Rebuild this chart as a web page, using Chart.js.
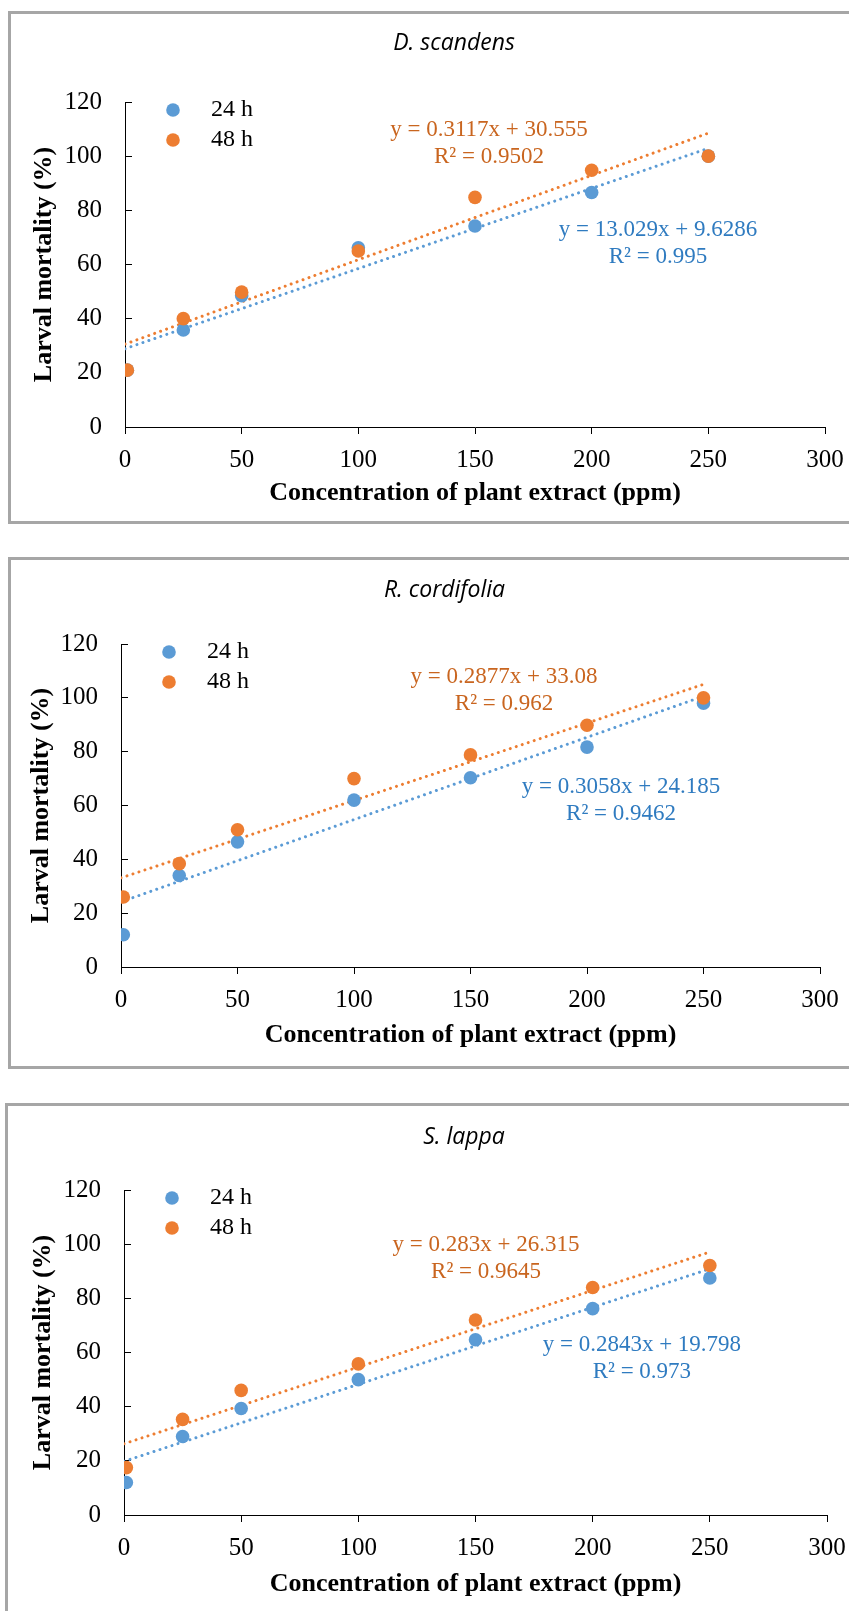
<!DOCTYPE html>
<html>
<head>
<meta charset="utf-8">
<script src="https://cdn.jsdelivr.net/npm/chart.js@4.4.1/dist/chart.umd.min.js"></script>
<style>
  body { margin: 0; background: #fff; width: 849px; height: 1611px; overflow: hidden; position: relative; }
  .caja { position: absolute; width: 900px; border: 3px solid #a6a6a6; box-sizing: border-box; }
  canvas { position: absolute; left: 0; }
</style>
</head>
<body>
<div class="caja" style="left:8px; top:11px; height:513px;"></div>
<div class="caja" style="left:8px; top:557px; height:512px;"></div>
<div class="caja" style="left:5px; top:1103px; height:515px;"></div>
<canvas id="g1" style="top:12px;"></canvas>
<canvas id="g2" style="top:558px;"></canvas>
<canvas id="g3" style="top:1104px;"></canvas>
<script>
// Concentraciones (ppm) y lineas de tendencia
const conc = [1, 25, 50, 100, 150, 200, 250];
const trendX = [0, 250];

// D. scandens
const dsc24 = [21, 35.8, 48.5, 66.2, 74.2, 86.6, 100];
const dsc48 = [21, 40, 49.8, 65, 84.8, 94.8, 100];
const dscFit24 = [28.9, 102.9];
const dscFit48 = [30.6, 108.5];
const dscEq24 = ["y = 13.029x + 9.6286", "R² = 0.995"];
const dscEq48 = ["y = 0.3117x + 30.555", "R² = 0.9502"];

// R. cordifolia
const rco24 = [12, 34, 46.5, 62, 70.3, 81.7, 98];
const rco48 = [26, 38.4, 51, 70, 78.8, 89.8, 100];
const rcoFit24 = [24.2, 100.6];
const rcoFit48 = [33.1, 105.0];
const rcoEq24 = ["y = 0.3058x + 24.185", "R² = 0.9462"];
const rcoEq48 = ["y = 0.2877x + 33.08", "R² = 0.962"];

// S. lappa
const sla24 = [12, 29, 39.3, 50, 64.7, 76.2, 87.5];
const sla48 = [17.5, 35.3, 46, 55.8, 72, 84, 92.1];
const slaFit24 = [19.8, 90.9];
const slaFit48 = [26.3, 97.1];
const slaEq24 = ["y = 0.2843x + 19.798", "R² = 0.973"];
const slaEq48 = ["y = 0.283x + 26.315", "R² = 0.9645"];

const seriesLabels = ["24 h", "48 h"];

const AZUL = "#5b9bd5";
const NARANJA = "#ed7d31";
const AZUL_TXT = "#2f7bc0";
const NARANJA_TXT = "#c9651f";
const SERIF = "'Liberation Serif', 'Times New Roman', serif";

// Dibuja leyenda y ecuaciones dentro del area del grafico
const extras = {
    id: "extras",
    afterDraw(chart) {
        const ctx = chart.ctx;
        const area = chart.chartArea;
        const sx = chart.scales.x, sy = chart.scales.y;
        ctx.save();
        ctx.font = "24px " + SERIF;
        ctx.textBaseline = "middle";
        // leyenda
        chart.data.datasets.filter(d => d.inLegend).forEach((d, i) => {
            const y = area.top + 8 + i * 30;
            ctx.beginPath();
            ctx.arc(area.left + 48, y, 6.8, 0, Math.PI * 2);
            ctx.fillStyle = d.backgroundColor;
            ctx.fill();
            ctx.fillStyle = "#000";
            ctx.textAlign = "left";
            ctx.fillText(d.label, area.left + 86, y);
        });
        // ecuaciones de tendencia
        ctx.font = "23px " + SERIF;
        ctx.textAlign = "center";
        chart.options.plugins.extras.eqs.forEach(eq => {
            const x = sx.getPixelForValue(eq.at[0]);
            const y = sy.getPixelForValue(eq.at[1]);
            ctx.fillStyle = eq.color;
            eq.lines.forEach((t, k) => ctx.fillText(t, x, y + k * 27));
        });
        ctx.restore();
    }
};

function crearPanel(cfg) {
    const canvas = document.getElementById(cfg.id);
    canvas.width = cfg.w;
    canvas.height = cfg.h;
    const pts = ys => conc.map((x, i) => ({ x: x, y: ys[i] }));
    const fit = ys => trendX.map((x, i) => ({ x: x, y: ys[i] }));
    const dotted = {
        showLine: true, pointRadius: 0, borderWidth: 3,
        borderDash: [0.01, 6.3], borderCapStyle: "round", fill: false
    };

    return new Chart(canvas.getContext("2d"), {
        type: "scatter",
        data: {
            datasets: [
                { label: seriesLabels[0], data: pts(cfg.s24), backgroundColor: AZUL, borderColor: AZUL,
                  pointRadius: 6.8, pointBorderWidth: 0, order: 1, inLegend: true },
                { label: seriesLabels[1], data: pts(cfg.s48), backgroundColor: NARANJA, borderColor: NARANJA,
                  pointRadius: 6.8, pointBorderWidth: 0, order: 0, inLegend: true },
                Object.assign({ label: "fit24", data: fit(cfg.f24), borderColor: AZUL, order: 3 }, dotted),
                Object.assign({ label: "fit48", data: fit(cfg.f48), borderColor: NARANJA, order: 2 }, dotted)
            ]
        },
        options: {
            responsive: false,
            animation: false,
            devicePixelRatio: 1,
            layout: { padding: 0 },
            plugins: {
                legend: { display: false },
                tooltip: { enabled: false },
                title: {
                    display: true,
                    text: cfg.title,
                    color: "#000",
                    font: { family: "'Open Sans', sans-serif", size: 23, style: "italic", weight: "normal" },
                    padding: { top: cfg.titleY - 13.8, bottom: cfg.top - cfg.titleY - 13.8 }
                },
                extras: { eqs: cfg.eqs }
            },
            scales: {
                x: {
                    type: "linear", min: 0, max: 300,
                    ticks: { stepSize: 50, color: "#000", font: { family: SERIF, size: 25 }, padding: 11, maxRotation: 0 },
                    grid: { display: true, drawOnChartArea: false, drawTicks: true, tickLength: 7, color: "#000", lineWidth: 1 },
                    border: { display: true, color: "#000", width: 1 },
                    title: {
                        display: true, text: "Concentration of plant extract (ppm)", color: "#000",
                        font: { family: SERIF, size: 26, weight: "bold" },
                        padding: { top: 0, bottom: cfg.xTitleOff - 15.6 }
                    },
                    afterFit: s => { s.height = cfg.h - cfg.bottom; }
                },
                y: {
                    type: "linear", min: 0, max: 120,
                    ticks: { stepSize: 20, color: "#000", font: { family: SERIF, size: 25 }, padding: 30 },
                    grid: { display: true, drawOnChartArea: false, drawTicks: true, tickLength: -7, color: "#000", lineWidth: 1 },
                    border: { display: true, color: "#000", width: 1 },
                    title: {
                        display: true, text: "Larval mortality (%)", color: "#000",
                        font: { family: SERIF, size: 26, weight: "bold" },
                        padding: { top: cfg.yTitleX - 15.6, bottom: 0 }
                    },
                    afterFit: s => { s.width = cfg.left; }
                },
                // eje vacio a la derecha: solo reserva el margen
                margen: {
                    type: "linear", position: "right", display: true,
                    ticks: { display: false }, grid: { display: false }, border: { display: false },
                    afterFit: s => { s.width = cfg.w - cfg.right; }
                }
            }
        },
        plugins: [extras]
    });
}

crearPanel({
    id: "g1", title: "D. scandens", w: 908, h: 511,
    left: 125, right: 825, top: 90, bottom: 415, titleY: 31, xTitleOff: 30, yTitleX: 44,
    s24: dsc24, s48: dsc48, f24: dscFit24, f48: dscFit48,
    eqs: [
        { lines: dscEq48, color: NARANJA_TXT, at: [156, 109.7] },
        { lines: dscEq24, color: AZUL_TXT, at: [228.4, 72.7] }
    ]
});

crearPanel({
    id: "g2", title: "R. cordifolia", w: 889, h: 510,
    left: 121, right: 820, top: 86, bottom: 409, titleY: 32, xTitleOff: 33, yTitleX: 41,
    s24: rco24, s48: rco48, f24: rcoFit24, f48: rcoFit48,
    eqs: [
        { lines: rcoEq48, color: NARANJA_TXT, at: [164.4, 107.7] },
        { lines: rcoEq24, color: AZUL_TXT, at: [214.6, 66.9] }
    ]
});

crearPanel({
    id: "g3", title: "S. lappa", w: 928, h: 511,
    left: 124, right: 827, top: 86, bottom: 411, titleY: 33, xTitleOff: 31, yTitleX: 43,
    s24: sla24, s48: sla48, f24: slaFit24, f48: slaFit48,
    eqs: [
        { lines: slaEq48, color: NARANJA_TXT, at: [154.5, 99.7] },
        { lines: slaEq24, color: AZUL_TXT, at: [221, 62.8] }
    ]
});
</script>
</body>
</html>
